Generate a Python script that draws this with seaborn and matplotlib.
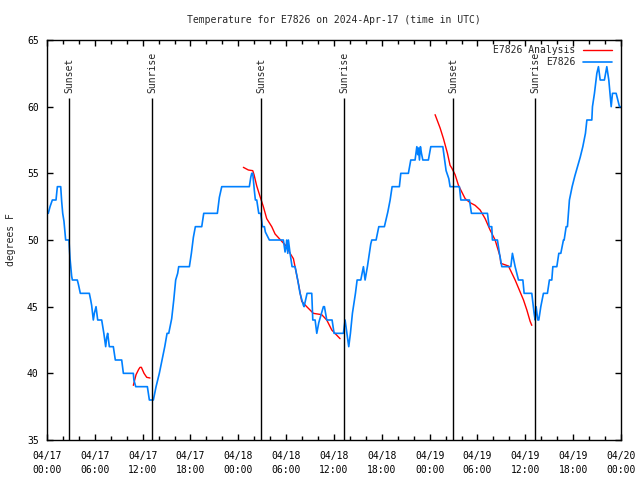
import matplotlib
matplotlib.use('Agg')
import matplotlib.pyplot as plt
import matplotlib.dates as mdates
from matplotlib.lines import Line2D
import pandas as pd
import seaborn as sns

START = pd.Timestamp('2024-04-17 00:00')
OBS_COLOR = '#0080ff'
ANA_COLOR = '#ff0000'

# E7826 observations: hours after 04/17 00:00 UTC, deg F
obs_hours = [0.16, 0.38, 0.67, 1.13, 1.30, 1.72, 1.84, 1.97, 2.13, 2.26, 2.34, 2.76, 2.80, 2.89, 3.09, 3.18,
             3.80, 3.93, 4.18, 5.31, 5.48, 5.60, 5.81, 5.94, 6.15, 6.36, 6.86, 7.07, 7.13, 7.36, 7.49, 7.61,
             7.82, 8.32, 8.57, 9.37, 9.58, 10.83, 10.90, 11.13, 12.59, 12.84, 13.34, 13.68, 14.09, 14.43,
             14.77, 15.06, 15.27, 15.64, 15.90, 16.14, 16.39, 16.52, 17.86, 18.11, 18.36, 18.61, 19.41, 19.66,
             21.37, 21.62, 21.92, 25.38, 25.56, 25.68, 25.81, 26.01, 26.14, 26.31, 26.56, 26.81, 27.02, 27.27,
             27.39, 27.89, 29.65, 29.86, 29.99, 30.07, 30.20, 30.28, 30.49, 30.74, 31.12, 31.45, 31.74, 32.16,
             32.25, 32.62, 33.21, 33.34, 33.63, 33.84, 34.09, 34.67, 34.80, 35.09, 35.76, 36.01, 37.18, 37.39,
             37.85, 38.06, 38.31, 38.69, 38.90, 39.36, 39.69, 39.90, 40.19, 40.61, 40.74, 41.28, 41.62, 42.32,
             42.75, 43.04, 43.29, 44.20, 44.38, 45.33, 45.63, 46.17, 46.39, 46.51, 46.59, 46.72, 46.84, 46.97,
             47.14, 47.84, 48.14, 49.65, 50.06, 50.40, 50.56, 51.73, 51.91, 52.99, 53.24, 55.25, 55.46, 55.79,
             55.87, 56.50, 56.75, 57.05, 58.18, 58.38, 58.72, 59.14, 59.69, 59.85, 60.81, 61.10, 61.23, 61.35,
             61.57, 61.69, 61.94, 62.27, 62.77, 63.02, 63.32, 63.45, 63.95, 64.20, 64.45, 64.78, 64.87, 65.12,
             65.28, 65.53, 65.87, 66.21, 66.54, 66.88, 67.21, 67.54, 67.72, 68.34, 68.42, 68.67, 68.97, 69.17,
             69.39, 69.92, 70.22, 70.47, 70.77, 70.93, 71.39, 71.81, 72.00]
obs_temps = [52, 52.5, 53, 53, 54, 54, 52.9, 52, 51.4, 50.5, 50, 50, 49.5, 48.6, 47.3, 47,
             47, 46.7, 46, 46, 45.5, 45.1, 44, 44.5, 45, 44, 44, 43.2, 43, 42, 42.7, 43,
             42, 42, 41, 41, 40, 40, 39.5, 39, 39, 38, 38, 39, 40, 41,
             42, 43, 43, 44.1, 45.5, 47, 47.5, 48, 48, 49, 50.2, 51, 51, 52,
             52, 53.2, 54, 54, 54.7, 55, 55, 53.7, 53, 53, 52, 52, 51, 51,
             50.6, 50, 50, 49.1, 49.5, 50, 49, 50, 49, 48, 48, 47, 46, 45.1,
             45, 46, 46, 44, 44, 43, 43.8, 45, 45, 44, 44, 43, 43, 44,
             42, 43, 44.5, 46, 47, 47, 48, 47, 48, 49.7, 50, 50, 51, 51,
             52.1, 53, 54, 54, 55, 55, 56, 56, 57, 56.4, 56.9, 56, 57, 56.5,
             56, 56, 57, 57, 55.2, 54.6, 54, 54, 53, 53, 52, 52, 51, 51,
             50, 50, 49, 48, 48, 49, 48, 47, 47, 46, 46, 44.5, 44, 45,
             44, 44, 45, 46, 46, 47, 47, 48, 48, 49, 49, 50, 50, 51,
             51, 53, 54, 54.8, 55.5, 56.2, 57, 58, 59, 59, 60, 61, 62.5, 63,
             62, 62, 63, 62, 60, 61, 61, 60, 60]

# E7826 Analysis, three separate runs
ana1_hours = [10.83, 11.17, 11.50, 11.67, 11.84, 12.17, 12.51, 12.92]
ana1_temps = [39.1, 39.9, 40.3, 40.45, 40.45, 40.0, 39.7, 39.65]
ana2_hours = [24.63, 25.26, 25.81, 25.97, 26.31, 26.73, 27.14, 27.56, 28.19, 28.61, 29.45, 30.07, 30.49,
              30.91, 31.53, 31.95, 32.58, 33.41, 34.46, 35.09, 35.72, 36.76]
ana2_temps = [55.45, 55.25, 55.2, 54.9, 54.05, 53.25, 52.5, 51.6, 51.0, 50.45, 49.9, 49.5, 49.0,
              48.6, 46.75, 45.4, 45.0, 44.5, 44.4, 44.0, 43.25, 42.6]
ana3_hours = [48.68, 49.31, 49.73, 50.23, 50.56, 50.77, 51.19, 51.61, 52.03, 52.45, 53.07, 53.70, 54.33,
              54.96, 55.58, 56.21, 56.84, 56.92, 57.88, 58.72, 59.35, 59.77, 60.19, 60.60, 60.81]
ana3_temps = [59.4, 58.4, 57.6, 56.5, 55.6, 55.4, 54.9, 54.1, 53.6, 53.1, 52.8, 52.6, 52.25,
              51.6, 50.75, 50.0, 48.75, 48.25, 48.05, 47.0, 46.1, 45.5, 44.75, 43.9, 43.6]

sunset_hours = [2.80, 26.88, 50.95]
sunrise_hours = [13.22, 37.27, 61.27]


def to_time(hours):
    return START + pd.to_timedelta(hours, unit='h')


def main():
    sns.set_style('ticks')
    plt.rcParams['font.family'] = ['DejaVu Sans Mono']
    plt.rcParams['font.size'] = 7

    obs = pd.DataFrame({'time': to_time(obs_hours), 'temp': obs_temps})
    runs = [(1, ana1_hours, ana1_temps), (2, ana2_hours, ana2_temps), (3, ana3_hours, ana3_temps)]
    ana = pd.concat([pd.DataFrame({'time': to_time(h), 'temp': t, 'run': r}) for r, h, t in runs])

    fig = plt.figure(figsize=(6.4, 4.8), dpi=100)
    ax = fig.add_axes([47 / 640, 40 / 480, 574 / 640, 400 / 480])

    sns.lineplot(data=ana, x='time', y='temp', units='run', estimator=None, sort=False,
                 color=ANA_COLOR, lw=1.0, ax=ax)
    sns.lineplot(data=obs, x='time', y='temp', estimator=None, sort=False,
                 color=OBS_COLOR, lw=1.2, ax=ax)

    for hours, name in [(sunset_hours, 'Sunset'), (sunrise_hours, 'Sunrise')]:
        times = to_time(hours)
        ax.vlines(times, 35, 60.65, color='black', lw=1.0, zorder=3)
        for t in times:
            ax.text(t, 61.0, name, rotation=90, ha='center', va='bottom', fontsize=7)

    ax.set_xlim(START, START + pd.Timedelta(hours=72))
    ax.set_ylim(35, 65)
    ax.set_yticks(range(35, 70, 5))
    ax.xaxis.set_major_locator(mdates.HourLocator(byhour=[0, 6, 12, 18]))
    ax.xaxis.set_minor_locator(mdates.HourLocator(byhour=range(0, 24, 2)))
    ax.xaxis.set_major_formatter(mdates.DateFormatter('%m/%d\n%H:%M'))
    ax.tick_params(which='both', direction='in', top=True, right=True, colors='black', labelsize=7)
    ax.tick_params(which='major', length=4, width=1)
    ax.tick_params(which='minor', length=3, width=1)
    ax.tick_params(axis='x', pad=8)
    ax.tick_params(axis='y', pad=6)
    for lbl in ax.get_xticklabels():
        lbl.set_linespacing(1.5)
    for sp in ax.spines.values():
        sp.set_visible(True)
        sp.set_linewidth(1)
        sp.set_color('black')

    ax.set_xlabel('')
    ax.set_ylabel('degrees F', fontsize=7, labelpad=8)
    ax.set_title('Temperature for E7826 on 2024-Apr-17 (time in UTC)', fontsize=7, pad=12)

    handles = [Line2D([], [], color=ANA_COLOR, lw=1.0), Line2D([], [], color=OBS_COLOR, lw=1.2)]
    ax.legend(handles, ['E7826 Analysis', 'E7826'], loc='upper right', bbox_to_anchor=(0.985, 0.9875),
              frameon=False, markerfirst=False, handlelength=3.0, handletextpad=0.8,
              labelspacing=0.25, fontsize=7, borderaxespad=0, borderpad=0)

    fig.savefig('out.png', dpi=100)


if __name__ == '__main__':
    main()
